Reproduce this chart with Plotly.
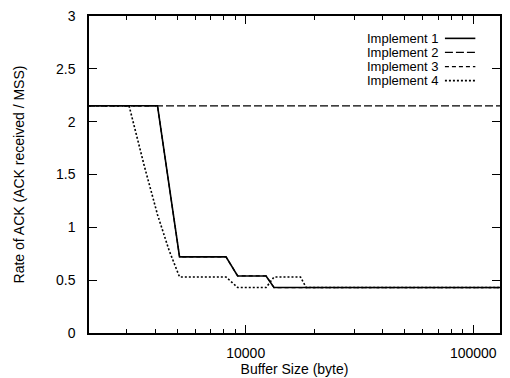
import plotly.graph_objects as go

# ---- data ----
names = ["Implement 1", "Implement 2", "Implement 3", "Implement 4"]

x_impl1 = [2048, 4096, 5120, 8192, 9216, 12288, 13312, 131072]
y_impl1 = [2.15, 2.15, 0.72, 0.72, 0.54, 0.54, 0.43, 0.43]

x_impl2 = [2048, 131072]
y_impl2 = [2.15, 2.15]

x_impl3 = [2048, 4096, 5120, 8192, 9216, 12288, 13312, 131072]
y_impl3 = [2.15, 2.15, 0.72, 0.72, 0.54, 0.54, 0.43, 0.43]

x_impl4 = [2048, 3072, 3584, 4096, 4608, 5120, 8192, 9216, 12288, 13312, 17408, 18432, 131072]
y_impl4 = [2.15, 2.15, 1.58, 1.12, 0.78, 0.53, 0.53, 0.43, 0.43, 0.53, 0.53, 0.43, 0.43]

x_ticks = [10000, 100000]
x_ticklabels = ["10000", "100000"]
x_minor = [3000, 4000, 5000, 6000, 7000, 8000, 9000,
           20000, 30000, 40000, 50000, 60000, 70000, 80000, 90000]
y_ticks = [0, 0.5, 1, 1.5, 2, 2.5, 3]
y_ticklabels = ["0", "0.5", "1", "1.5", "2", "2.5", "3"]

dashes = ["solid", "8px,3px", "4px,3px", "2px,2px"]
widths = [1.6, 1.3, 1.3, 1.6]

series = [(x_impl1, y_impl1), (x_impl2, y_impl2), (x_impl3, y_impl3), (x_impl4, y_impl4)]

fig = go.Figure()
for name, (xs, ys), d, w in zip(names, series, dashes, widths):
    fig.add_trace(go.Scatter(x=xs, y=ys, mode="lines", name=name,
                             line=dict(color="black", dash=d, width=w),
                             showlegend=False))

font_family = "Liberation Sans, Arial, Helvetica, sans-serif"

# manual legend (text left, line sample right)
row_px = [39, 53.5, 68, 82.5]
row_y = [(342 - p) / 326 for p in row_px]
for name, d, w, ry in zip(names, dashes, widths, row_y):
    fig.add_annotation(x=0.853, y=ry, xref="paper", yref="paper", text=name,
                       showarrow=False, xanchor="right", yanchor="middle",
                       borderpad=0,
                       font=dict(size=13, color="black", family=font_family))
    fig.add_shape(type="line", xref="paper", yref="paper",
                  x0=0.866, x1=0.94, y0=ry, y1=ry,
                  line=dict(color="black", dash=d, width=w))

fig.update_layout(
    width=510, height=378,
    margin=dict(l=89, r=8, t=16, b=36),
    paper_bgcolor="white", plot_bgcolor="white",
    font=dict(family=font_family, size=14, color="black"),
)
fig.update_xaxes(
    type="log", range=[3.3113, 5.1175],
    tickmode="array", tickvals=x_ticks, ticktext=x_ticklabels,
    ticks="inside", ticklen=8, tickwidth=1.2, tickcolor="black",
    minor=dict(tickmode="array", tickvals=x_minor, ticks="inside", ticklen=4,
               tickwidth=1, tickcolor="black", showgrid=False),
    showline=True, linecolor="black", linewidth=1.5, mirror="ticks",
    showgrid=False, zeroline=False,
    ticklabelstandoff=6,
    title=dict(text="Buffer Size (byte)", standoff=0, font=dict(size=14)),
    tickfont=dict(size=14),
)
fig.update_yaxes(
    range=[0, 3],
    tickmode="array", tickvals=y_ticks, ticktext=y_ticklabels,
    ticks="inside", ticklen=8, tickwidth=1.2, tickcolor="black",
    showline=True, linecolor="black", linewidth=1.5, mirror="ticks",
    showgrid=False, zeroline=False,
    ticklabelstandoff=9,
    title=dict(text="Rate of ACK (ACK received / MSS)", standoff=28, font=dict(size=14)),
    tickfont=dict(size=14),
)

fig.write_html("out.html")
